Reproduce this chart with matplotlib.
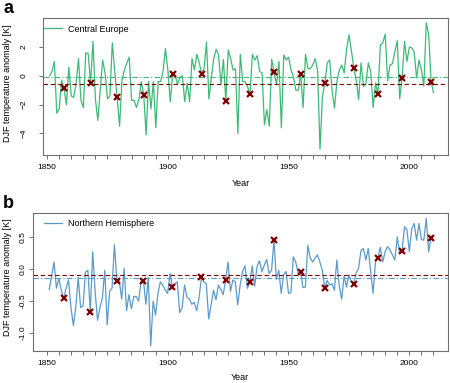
import numpy as np
import matplotlib
matplotlib.use("Agg")
import matplotlib.pyplot as plt

plt.rcParams['font.family'] = ['Liberation Sans', 'DejaVu Sans']

# DJF anomalies, Central Europe, 1851-2010
ce_years = np.arange(1851, 2011)
ce_temp = [
    0.0, 0.3, 1.0, -2.6, -2.3, -0.3, -0.85, -2.0, 0.6, -1.4,
    -1.5, -0.5, 1.2, -1.7, -2.2, 1.6, 1.55, -0.5, 2.4, -1.6,
    -3.1, -1.0, 1.1, 0.2, -1.6, -1.4, 2.3, 0.3, -1.5, -3.5,
    -0.3, 0.4, 0.9, 1.3, -1.7, -1.7, -2.2, -1.65, -0.4, -1.3,
    -4.1, -0.4, -2.3, -0.4, -3.6, -0.4, -0.4, 0.3, 1.9, 0.4,
    -1.8, 0.15, 0.05, -0.6, -0.1, 0.0, -1.8, -0.5, -1.8, 1.2,
    0.4, 1.5, 0.9, 0.15, 0.5, 2.35, -1.6, -0.15, 1.2, 1.85,
    1.45, -0.6, 1.15, -1.75, 1.8, 1.2, 0.4, 0.5, -4.0, 1.5,
    -0.4, -0.4, -0.75, -1.27, 1.5, 1.1, 1.4, 0.3, 0.2, -3.4,
    -2.35, -3.5, 1.15, 0.25, -0.6, 1.0, -3.6, 1.45, 1.1, 1.3,
    0.4, -0.05, -1.0, -1.0, 0.12, -2.2, 1.5, 0.5, 0.5, 0.75,
    1.2, 0.4, -5.1, -1.45, -0.5, 0.9, 1.1, -1.0, -2.25, -0.4,
    0.4, 0.75, 0.2, 1.85, 2.85, 1.75, 0.55, -0.3, -1.65, 0.9,
    -0.75, -0.55, 0.9, 0.3, -2.2, -0.5, -1.27, 2.15, 2.3, 2.9,
    -0.35, 0.75, 0.85, 1.7, 2.45, -1.6, -0.12, 2.4, 1.0, 2.0,
    1.95, 1.65, -0.15, 1.1, 0.4, -0.7, 3.7, 2.85, -0.44, -1.15,
]

# DJF anomalies, Northern Hemisphere, 1851-2009
nh_years = np.arange(1851, 2010)
nh_temp = [
    -0.32, -0.1, 0.11, -0.3, -0.15, -0.33, -0.46, -0.3, -0.17, -0.6,
    -0.88, -0.6, -0.13, -0.6, -0.58, -0.05, -0.02, -0.67, 0.27, -0.35,
    -0.8, -0.6, -0.45, -0.02, -0.87, -0.35, -0.3, 0.38, -0.19, -0.18,
    -0.47, 0.01, -0.65, -0.4, -0.62, -0.43, -0.43, -0.5, -0.2, -0.18,
    -0.55, -0.13, -1.2, -0.5, -0.72, -0.38, -0.2, -0.25, -0.33, -0.38,
    -0.07, -0.28, -0.23, -0.2, -0.68, -0.6, -0.25, -0.44, -0.47, -0.55,
    -0.52, -0.65, -0.45, -0.13, -0.2, -0.23, -0.78, -0.55, -0.33, -0.48,
    -0.25, -0.32, -0.4, -0.17, 0.11, -0.35, -0.17, -0.2, -0.56, -0.25,
    -0.04, 0.05, -0.3, -0.21, 0.05, -0.27, 0.04, 0.13, -0.04, 0.06,
    0.15, -0.07, -0.02, 0.45, -0.16, -0.02, -0.38, -0.09, -0.04, -0.38,
    -0.37, 0.19, 0.11, -0.07, -0.04, -0.29, -0.28, 0.37, 0.17, 0.11,
    0.17, 0.22, 0.11, -0.02, -0.29, -0.18, -0.25, -0.23, -0.33, 0.14,
    -0.26, -0.47, -0.11, -0.28, -0.09, -0.2, -0.24, -0.06, 0.01, 0.29,
    0.32, 0.14, 0.32, -0.04, -0.38, 0.11, 0.17, 0.34, 0.11, 0.27,
    0.35, 0.3, 0.22, 0.14, 0.5, 0.24, 0.28, 0.66, 0.62, 0.27,
    0.63, 0.71, 0.45, 0.71, 0.46, 0.45, 0.79, 0.27, 0.49,
]

# winters following solar minima (marked with x)
min_years = [1857, 1868, 1879, 1890, 1902, 1914, 1924, 1934, 1944,
             1955, 1965, 1977, 1987, 1997, 2009]

# long-term mean lines
ce_clim = -0.08
nh_clim = -0.145

green = '#3dba78'
blue = '#5b9bc8'
red = '#7f0000'
grey = '#707070'

W, H = 450, 383
fig = plt.figure(figsize=(W / 100, H / 100), dpi=100)


def px_axes(left, top, right, bottom):
    return fig.add_axes([left / W, 1 - bottom / H, (right - left) / W, (bottom - top) / H])


def style(ax, ypad):
    for s in ax.spines.values():
        s.set_color(grey)
        s.set_linewidth(0.8)
    ax.set_xticks(np.arange(1850, 2011, 5))
    ax.set_xticklabels([str(y) if y % 50 == 0 else '' for y in range(1850, 2011, 5)])
    ax.tick_params(axis='x', length=3.2, width=0.7, color=grey, labelsize=6, pad=3.5)
    ax.tick_params(axis='y', length=3.2, width=0.7, color=grey, labelsize=6,
                   labelrotation=90, pad=ypad)
    for lab in ax.get_yticklabels():
        lab.set_va('center')


def panel(ax, years, temp, color, clim, name):
    temp = np.array(temp)
    ax.plot(years, temp, color=color, lw=0.9, label=name)
    idx = [list(years).index(y) for y in min_years]
    mk = temp[idx]
    ax.axhline(clim, color=color, lw=0.8, ls=(0, (5, 2, 1, 2)))
    ax.axhline(mk.mean(), color=red, lw=0.8, ls=(0, (4, 2.5)))
    ax.plot(min_years, mk, ls='none', marker='x', ms=4, mew=1.6, color=red)


# panel a
ax1 = px_axes(43, 18.3, 448, 155)
panel(ax1, ce_years, ce_temp, green, ce_clim, 'Central Europe')
ax1.set_xlim(1848.3, 2016)
ax1.set_ylim(-5.5, 4.0)
ax1.set_yticks([-4, -2, 0, 2])
style(ax1, 8)
ax1.legend(loc='upper left', bbox_to_anchor=(43.5 / W, 1 - 24.5 / H),
           bbox_transform=fig.transFigure, frameon=False, fontsize=6.5,
           borderpad=0, borderaxespad=0, handlelength=2.0, handletextpad=0.7)

# panel b
ax2 = px_axes(33, 213.3, 448, 351)
panel(ax2, nh_years, nh_temp, blue, nh_clim, 'Northern Hemisphere')
ax2.set_xlim(1844.3, 2016)
ax2.set_ylim(-1.28, 0.87)
ax2.set_yticks([-1.0, -0.5, 0.0, 0.5])
ax2.set_yticklabels(['-1.0', '-0.5', '0.0', '0.5'])
style(ax2, 1.5)
ax2.legend(loc='upper left', bbox_to_anchor=(43.5 / W, 1 - 219.5 / H),
           bbox_transform=fig.transFigure, frameon=False, fontsize=6.5,
           borderpad=0, borderaxespad=0, handlelength=2.0, handletextpad=0.7)

# texts
fig.text(3 / W, 1 - 13 / H, 'a', fontsize=13, fontweight='bold', va='baseline')
fig.text(3 / W, 1 - 208 / H, 'b', fontsize=13, fontweight='bold', va='baseline')
fig.text(7.3 / W, 1 - 83 / H, 'DJF temperature anomaly [K]', rotation=90,
         ha='center', va='center', fontsize=6.5)
fig.text(7.3 / W, 1 - 277 / H, 'DJF temperature anomaly [K]', rotation=90,
         ha='center', va='center', fontsize=6.5)
fig.text(241 / W, 1 - 183.3 / H, 'Year', ha='center', va='center', fontsize=6.5)
fig.text(240 / W, 1 - 378 / H, 'Year', ha='center', va='center', fontsize=6.5)

fig.savefig('out.png', dpi=100)
